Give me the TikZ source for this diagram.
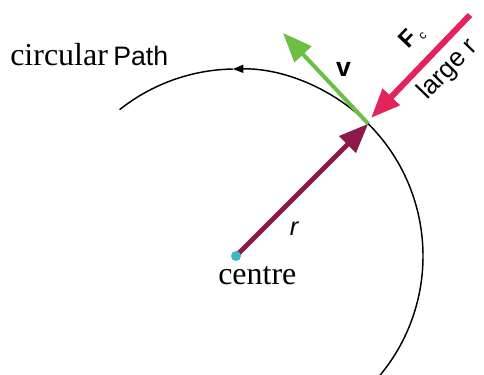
\documentclass[tikz,border=0pt]{standalone}
\usepackage{fontspec}
\setmainfont{Liberation Serif}
\newfontfamily\arialf{Liberation Sans}
\usetikzlibrary{arrows.meta,calc}
\definecolor{maroonc}{HTML}{8B1A4A}
\definecolor{redc}{HTML}{E3245C}
\definecolor{greenc}{HTML}{6CBF45}
\definecolor{cyanc}{HTML}{3FB5C5}
\begin{document}
\begin{tikzpicture}[x=0.75pt,y=0.75pt,
  serif24/.style={font=\fontsize{24}{28}\selectfont, inner sep=0pt},
  sans/.style={font=\arialf\fontsize{#1}{#1}\selectfont, inner sep=0pt},
  vec/.style={line width=#1, -{Triangle[length=22pt,width=17pt]}}]
\useasboundingbox (0,0) rectangle (484,374);
\coordinate (C) at (236,118);
\coordinate (T) at ($(C)+(45:187)$);
\coordinate (A0) at ($(C)+(-40:187)$);
\coordinate (A1) at ($(C)+(91:187)$);
\coordinate (V) at (283,341);
\coordinate (F0) at (470,359);
\coordinate (F1) at (371,256);
% circular path
\draw[line width=1.1pt, -{Triangle[length=8pt,width=6pt]}] (A0) arc[start angle=-40, end angle=91, radius=187];
\draw[line width=1.1pt] (A1) arc[start angle=91, end angle=128.5, radius=187];
% vectors
\draw[vec=3.6pt, maroonc] (C) -- (T);
\draw[vec=3pt, greenc] (T) -- (V);
\draw[vec=4.5pt, redc] (F0) -- (F1);
\node[circle, fill=cyanc, minimum size=7.5pt, inner sep=0pt] (dot) at (C) {};
% labels
\node[serif24, anchor=base west] (lcirc) at (10,308) {circular};
\node[sans=20, anchor=base west] (lpath) at (113,308) {Path};
\node[serif24, anchor=base west] (lcen) at (218,89) {centre};
\node[sans=19, anchor=center] (lr) at (294,145) {\itshape r};
\node[sans=20, anchor=center] (lv) at (343.5,304.5) {\bfseries v};
\node[sans=18, anchor=base west, rotate=46] (lF) at (408,324)
  {\bfseries F\hspace{2pt}\raisebox{-3pt}{\mdseries\fontsize{9}{9}\selectfont c}};
\node[sans=19.5, anchor=base west, rotate=46] (llarge) at (427,273) {large r};
\end{tikzpicture}
\end{document}
